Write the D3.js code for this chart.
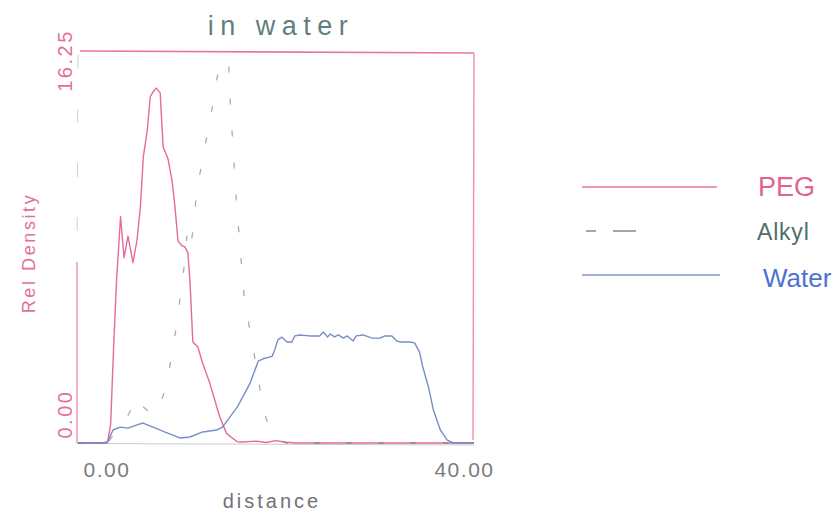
<!DOCTYPE html>
<html>
<head>
<meta charset="utf-8">
<script src="https://cdn.jsdelivr.net/npm/d3@7"></script>
<style>
  html, body { margin: 0; padding: 0; background: #fff; }
  svg { display: block; font-family: "Liberation Sans", Arial, sans-serif; }
</style>
</head>
<body>
<svg id="chart" width="840" height="517"></svg>
<script>
// Density profiles across the slab, sampled along "distance"
const pegX   = [0, 2.5, 3.0, 3.3, 3.6, 3.9, 4.3, 4.65, 5.05, 5.55, 5.95, 6.3, 6.6, 7.0, 7.3, 7.6, 7.9, 8.3, 8.6, 9.1, 9.5, 9.8, 10.1, 10.5, 10.8, 11.1, 11.3, 11.6, 12.1, 12.6, 13.3, 14.3, 15.0, 15.6, 16.1, 16.7, 18.0, 19.0, 20.0, 21.0, 22.0, 26.0, 30.0, 35.0, 40.0];
const pegY   = [0, 0, 0.05, 0.8, 4.0, 6.8, 9.4, 7.7, 8.6, 7.5, 8.4, 9.8, 11.9, 13.0, 14.4, 14.6, 14.75, 14.55, 12.3, 11.8, 10.9, 9.8, 8.4, 8.2, 8.15, 7.9, 6.8, 4.2, 4.0, 3.3, 2.5, 1.1, 0.4, 0.2, 0.05, 0.04, 0.08, 0.02, 0.1, 0.03, 0, 0, 0, 0, 0];

const alkylX = [0, 3.0, 3.5, 4.2, 5.0, 5.6, 6.1, 6.6, 7.2, 8.0, 9.0, 10.0, 10.8, 11.0, 11.3, 11.6, 12.0, 13.5, 14.1, 14.6, 15.0, 15.4, 16.0, 16.8, 17.4, 17.7, 18.0, 19.0, 20.0, 21.0, 25.0, 30.0, 35.0, 40.0];
const alkylY = [0, 0, 0.3, 0.8, 1.1, 1.6, 1.2, 1.5, 1.3, 1.2, 2.5, 5.0, 7.6, 8.6, 8.0, 8.8, 10.5, 13.8, 15.3, 17.2, 18.0, 14.0, 10.0, 6.0, 4.6, 4.1, 3.0, 1.0, 0.2, 0, 0, 0, 0, 0];

const waterX = [0, 2.93, 3.54, 4.24, 5.05, 5.96, 6.57, 7.58, 8.99, 10.3, 11.3, 12.6, 14.0, 14.6, 16.1, 17.4, 18.2, 18.7, 19.6, 19.9, 20.2, 20.6, 21.1, 21.6, 21.9, 22.4, 23.4, 24.4, 24.8, 25.2, 25.5, 25.9, 26.3, 26.8, 27.2, 27.8, 28.1, 28.8, 29.7, 30.5, 31.0, 31.7, 32.2, 32.5, 33.5, 34.0, 34.5, 34.8, 35.4, 35.9, 36.6, 37.3, 37.9, 39.3, 40.0];
const waterY = [0, 0, 0.54, 0.66, 0.62, 0.75, 0.83, 0.66, 0.42, 0.21, 0.25, 0.46, 0.54, 0.66, 1.5, 2.5, 3.4, 3.5, 3.6, 3.9, 4.3, 4.4, 4.2, 4.2, 4.45, 4.49, 4.45, 4.45, 4.61, 4.41, 4.53, 4.41, 4.49, 4.36, 4.45, 4.24, 4.45, 4.49, 4.36, 4.36, 4.45, 4.45, 4.24, 4.2, 4.2, 4.16, 3.78, 3.2, 2.33, 1.37, 0.54, 0.12, 0, 0, 0];

const seriesNames  = ["PEG", "Alkyl", "Water"];
const xTickValues  = [0, 40];
const yTickValues  = [0, 16.25];
const titleText    = "in water";
const xAxisTitle   = "distance";
const yAxisTitle   = "Rel Density";

const colors = { PEG: "#e35d92", Alkyl: "#5f7d78", Water: "#6d84c2" };
const textColors = { PEG: "#e2638f", Alkyl: "#4f6f69", Water: "#4d72d2" };
const dashes = { PEG: null, Alkyl: "6,26", Water: null };

const svg = d3.select("#chart");
const x = d3.scaleLinear().domain([0, 40]).range([78, 474]);
const y = d3.scaleLinear().domain([0, 16.25]).range([443, 52]);

const series = [
  { name: "PEG",   values: pegX.map((d, i) => [d, pegY[i]]) },
  { name: "Alkyl", values: alkylX.map((d, i) => [d, alkylY[i]]) },
  { name: "Water", values: waterX.map((d, i) => [d, waterY[i]]) }
];

// plot clip
svg.append("defs").append("clipPath").attr("id", "plotClip")
  .append("rect").attr("x", 76).attr("y", 52).attr("width", 400).attr("height", 395);

// frame
const frame = svg.append("g").attr("fill", "none");
frame.append("line").attr("x1", 80).attr("y1", 51).attr("x2", 474).attr("y2", 53)
  .attr("stroke", "#e8769e").attr("stroke-width", 1.6);
frame.append("line").attr("x1", 474).attr("y1", 53).attr("x2", 473).attr("y2", 440)
  .attr("stroke", "#ef8fb2").attr("stroke-width", 1.4);
frame.append("line").attr("x1", 78).attr("y1", 55).attr("x2", 77).attr("y2", 262)
  .attr("stroke", "#b8bcbc").attr("stroke-width", 1).attr("stroke-dasharray", "14,40").attr("opacity", 0.7);
frame.append("line").attr("x1", 77).attr("y1", 262).attr("x2", 77).attr("y2", 443)
  .attr("stroke", "#ee86ab").attr("stroke-width", 1.3);
frame.append("line").attr("x1", 77).attr("y1", 443.5).attr("x2", 474).attr("y2", 445)
  .attr("stroke", "#9aa0a8").attr("stroke-width", 1).attr("opacity", 0.55);

// curves
const line = d3.line().x(d => x(d[0])).y(d => y(d[1]));
svg.append("g").attr("clip-path", "url(#plotClip)")
  .selectAll("path").data(series).join("path")
  .attr("d", d => line(d.values))
  .attr("fill", "none")
  .attr("stroke", d => colors[d.name])
  .attr("stroke-width", d => d.name === "Alkyl" ? 1.3 : 1.4)
  .attr("stroke-dasharray", d => dashes[d.name])
  .attr("stroke-linejoin", "round")
  .attr("opacity", d => d.name === "Alkyl" ? 0.6 : 0.92);

// x axis labels
const xAxis = d3.axisBottom(x).tickValues(xTickValues).tickFormat(d3.format(".2f")).tickSize(0);
const gx = svg.append("g").attr("transform", "translate(0,443)").call(xAxis);
gx.select(".domain").remove();
gx.selectAll("text")
  .attr("y", 34).attr("dy", 0)
  .attr("fill", "#7a7c7e")
  .style("font-size", "21px")
  .style("letter-spacing", "1.5px")
  .attr("text-anchor", (d, i) => i === 0 ? "start" : "end")
  .attr("x", (d, i) => i === 0 ? 5 : 20);

// y axis labels (rotated)
const yAxis = d3.axisLeft(y).tickValues(yTickValues).tickFormat(d3.format(".2f")).tickSize(0);
const gy = svg.append("g").attr("transform", "translate(78,0)").call(yAxis);
gy.select(".domain").remove();
gy.selectAll("text")
  .attr("x", 0).attr("y", 0).attr("dy", 0)
  .attr("fill", "#e46f98")
  .style("font-size", "20px")
  .style("letter-spacing", "2.5px")
  .attr("text-anchor", (d, i) => i === 0 ? "start" : "middle")
  .attr("transform", (d, i) => i === 0 ? "translate(-6,-5) rotate(-90)" : "translate(-6,8) rotate(-90)");

// titles
svg.append("text").attr("x", 281).attr("y", 35).attr("text-anchor", "middle")
  .attr("fill", "#5f7f7f").style("font-size", "27px").style("letter-spacing", "6.5px")
  .text(titleText);
svg.append("text").attr("x", 272).attr("y", 508).attr("text-anchor", "middle")
  .attr("fill", "#707274").style("font-size", "20px").style("letter-spacing", "3px")
  .text(xAxisTitle);
svg.append("text").attr("transform", "translate(35,253) rotate(-90)").attr("text-anchor", "middle")
  .attr("fill", "#e4709a").style("font-size", "18px").style("letter-spacing", "2.6px")
  .text(yAxisTitle);

// legend
const legendRows = [
  { name: "PEG",   y: 187, x1: 582, x2: 717, tx: 758, ty: 196, size: 27, ls: 0 },
  { name: "Alkyl", y: 231, x1: 586, x2: 636, tx: 757, ty: 240, size: 23, ls: 0.8 },
  { name: "Water", y: 275, x1: 582, x2: 720, tx: 763, ty: 287, size: 26, ls: 0 }
];
const lg = svg.append("g").selectAll("g").data(legendRows).join("g");
lg.append("line")
  .attr("x1", d => d.x1).attr("x2", d => d.x2)
  .attr("y1", d => d.y).attr("y2", d => d.y)
  .attr("stroke", d => colors[d.name])
  .attr("stroke-width", 1.3)
  .attr("stroke-dasharray", d => d.name === "Alkyl" ? "10,17,24,100" : null)
  .attr("opacity", 0.85);
lg.append("text")
  .attr("x", d => d.tx).attr("y", d => d.ty)
  .attr("fill", d => textColors[d.name])
  .style("font-size", d => d.size + "px")
  .style("letter-spacing", d => d.ls + "px")
  .text(d => seriesNames[seriesNames.indexOf(d.name)]);
</script>
</body>
</html>
